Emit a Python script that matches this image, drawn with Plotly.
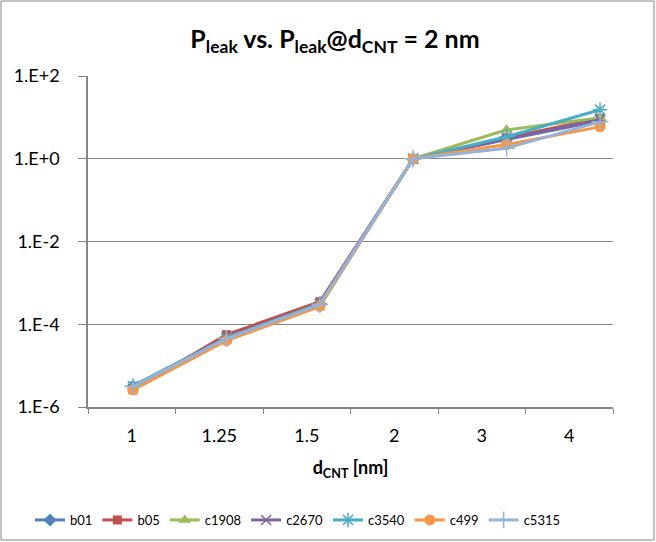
import plotly.graph_objects as go

categories = ["1", "1.25", "1.5", "2", "3", "4"]
series_names = ["b01", "b05", "c1908", "c2670", "c3540", "c499", "c5315"]
b01 = [3.2e-6, 4.8e-5, 3.1e-4, 1.0, 2.9, 8.3]
b05 = [2.6e-6, 5.6e-5, 3.5e-4, 1.0, 3.2, 9.5]
c1908 = [3.1e-6, 4.6e-5, 3.1e-4, 1.0, 5.0, 9.8]
c2670 = [3.1e-6, 4.6e-5, 3.1e-4, 1.0, 3.0, 8.8]
c3540 = [3.2e-6, 4.7e-5, 3.1e-4, 1.0, 3.4, 15.3]
c499 = [2.6e-6, 4.0e-5, 2.7e-4, 1.0, 2.2, 5.9]
c5315 = [3.1e-6, 4.5e-5, 3.0e-4, 1.0, 1.8, 7.8]
values = [b01, b05, c1908, c2670, c3540, c499, c5315]
y_tickvals = [1e-6, 1e-4, 1e-2, 1e0, 1e2]
y_ticktext = ["1.E-6", "1.E-4", "1.E-2", "1.E+0", "1.E+2"]

colors = ["#4F81BD", "#C0504D", "#9BBB59", "#8064A2", "#4BACC6", "#F79646", "#95B3D7"]
symbols = ["diamond", "square", "triangle-up", "x-thin", "asterisk-open", "circle", "cross-thin"]
sizes = [10, 9, 11, 10, 12, 11, 12]
legend_ids = ["legend", "legend", "legend", "legend", "legend2", "legend2", "legend2"]

FONT = "Lato, Calibri, Carlito, sans-serif"

W, H = 656, 542
L, R, T, B = 88, 43, 76, 135
pw, ph = W - L - R, H - T - B

fig = go.Figure()
for name, vals, col, sym, sz, lg in zip(series_names, values, colors, symbols, sizes, legend_ids):
    open_sym = sym in ("x-thin", "cross-thin", "asterisk-open")
    fig.add_trace(go.Scatter(
        x=categories, y=vals, name=name, xaxis="x2", legend=lg,
        mode="lines+markers",
        line=dict(color=col, width=3),
        marker=dict(symbol=sym, size=sz, color=col,
                    line=dict(color=col, width=1.5 if open_sym else 0)),
    ))

# invisible helper trace to establish category axis for labels
fig.add_trace(go.Scatter(x=categories, y=[None] * len(categories), xaxis="x",
                         showlegend=False, hoverinfo="skip", mode="lines"))

legend_common = dict(orientation="h", xref="container", yref="container",
                     xanchor="left", y=1 - 520 / H, yanchor="middle",
                     font=dict(size=13, family=FONT), itemwidth=30, tracegroupgap=0,
                     bgcolor="rgba(0,0,0,0)")

fig.update_layout(
    width=W, height=H,
    margin=dict(l=L, r=R, t=T, b=B),
    paper_bgcolor="white", plot_bgcolor="white",
    font=dict(family=FONT, size=18, color="#000000"),
    title=dict(text="<b>P<sub>leak</sub> vs. P<sub>leak</sub>@d<sub>CNT</sub> = 2 nm</b>",
               x=335 / W, xanchor="center", y=1 - 39 / H, yanchor="middle",
               font=dict(size=25, family=FONT)),
    xaxis=dict(type="category", range=[-0.5, 5.5], showgrid=False,
               showline=True, linecolor="#868686", linewidth=1.5,
               ticks="outside", tickson="boundaries", ticklen=5, tickcolor="#868686",
               tickfont=dict(size=18), ticklabelstandoff=12,
               title=dict(text="<b>d<sub>CNT</sub> [nm]</b>", standoff=16, font=dict(size=18))),
    xaxis2=dict(type="category", overlaying="x", range=[-0.482, 5.139], visible=False),
    yaxis=dict(type="log", range=[-6, 2], tickvals=y_tickvals, ticktext=y_ticktext,
               showgrid=True, gridcolor="#868686", gridwidth=1,
               showline=True, linecolor="#868686", linewidth=1.5,
               ticks="outside", ticklen=8, tickcolor="#868686",
               tickfont=dict(size=18), ticklabelstandoff=15, zeroline=False,
               automargin=False),
    legend=dict(legend_common, x=30 / W),
    legend2=dict(legend_common, x=328 / W),
    showlegend=True,
)

# chart-area border
fig.add_shape(type="rect", xref="paper", yref="paper",
              x0=(1 - L) / pw, x1=(W - 2 - L) / pw,
              y0=(T + ph - (H - 2)) / ph, y1=(T + ph - 1) / ph,
              line=dict(color="#868686", width=1), fillcolor="rgba(0,0,0,0)", layer="below")

fig.write_html("out.html", config={"displayModeBar": False},
               post_script="document.body.style.margin='0';document.body.style.overflow='hidden';")
